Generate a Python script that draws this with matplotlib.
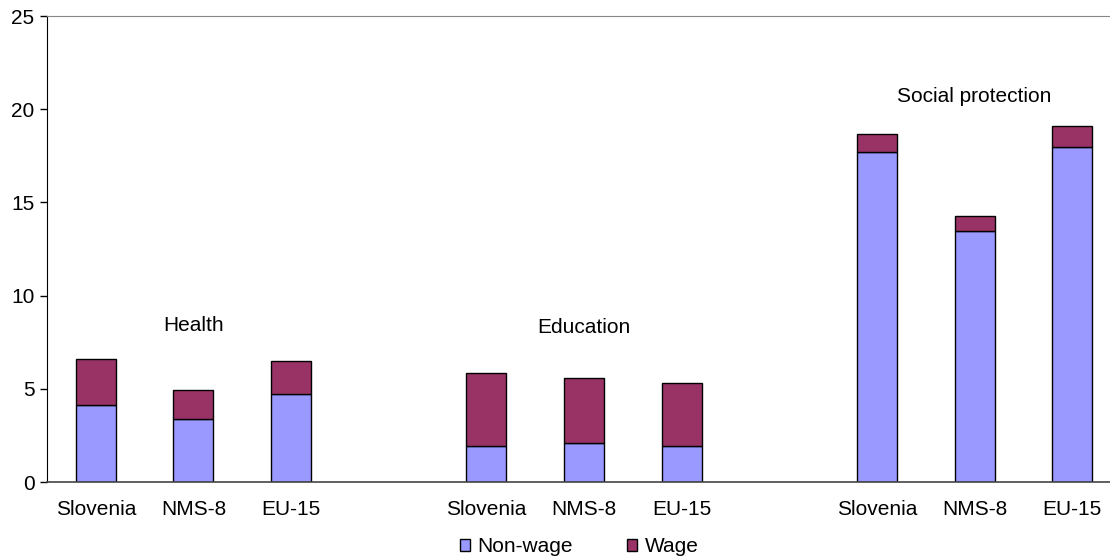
import numpy as np
import matplotlib
matplotlib.use('Agg')
from matplotlib import pyplot as plt

plt.rcParams['font.family'] = ['Liberation Sans', 'DejaVu Sans']

countries = ['Slovenia', 'NMS-8', 'EU-15']
groups = ['Health', 'Education', 'Social protection']

non_wage = [4.14, 3.39, 4.73,
            1.95, 2.10, 1.95,
            17.70, 13.49, 17.97]
wage = [2.46, 1.54, 1.77,
        3.88, 3.46, 3.38,
        0.96, 0.79, 1.12]

# label positions of the group titles (x = middle slot, y in data units)
group_label_y = [8.4, 8.3, 20.7]

NON_WAGE_COLOR = '#9999FF'
WAGE_COLOR = '#993366'
FS = 15


def slot_positions():
    # three bars per group, one empty slot between groups
    pos = []
    for g in range(len(groups)):
        for c in range(len(countries)):
            pos.append(g * 4 + c)
    return np.array(pos)


def plot_chart(filename):
    fig = plt.figure(figsize=(11.1, 5.57), dpi=100)
    ax = fig.add_axes([47 / 1110, 1 - 482 / 557, 1074 / 1110, 466 / 557])

    x = slot_positions()
    ax.bar(x, non_wage, width=0.41, color=NON_WAGE_COLOR, edgecolor='black',
           linewidth=1.0, label='Non-wage', zorder=2)
    ax.bar(x, wage, width=0.41, bottom=non_wage, color=WAGE_COLOR,
           edgecolor='black', linewidth=1.0, label='Wage', zorder=2)

    for g, name in enumerate(groups):
        ax.text(g * 4 + 1, group_label_y[g], name, ha='center', va='center',
                fontsize=FS)

    ax.set_xlim(-0.5, 10.5)
    ax.set_ylim(0, 25)
    ax.set_yticks([0, 5, 10, 15, 20, 25])
    ax.set_xticks(x)
    ax.set_xticklabels(countries * len(groups))
    ax.tick_params(axis='x', length=0, pad=13, labelsize=FS)
    ax.tick_params(axis='y', length=5, width=1, labelsize=FS, pad=4)

    ax.spines['top'].set_color('#888888')
    ax.spines['right'].set_visible(False)
    ax.spines['left'].set_color('black')
    ax.spines['bottom'].set_color('#444444')
    ax.spines['bottom'].set_linewidth(1.2)

    fig.legend(loc='center', bbox_to_anchor=(579 / 1110, 1 - 547 / 557),
               bbox_transform=fig.transFigure, ncol=2, frameon=False,
               fontsize=FS, handlelength=0.5, handleheight=0.5,
               columnspacing=2.6, handletextpad=0.35, borderpad=0)

    fig.savefig(filename, dpi=100)


if __name__ == '__main__':
    plot_chart('out.png')
